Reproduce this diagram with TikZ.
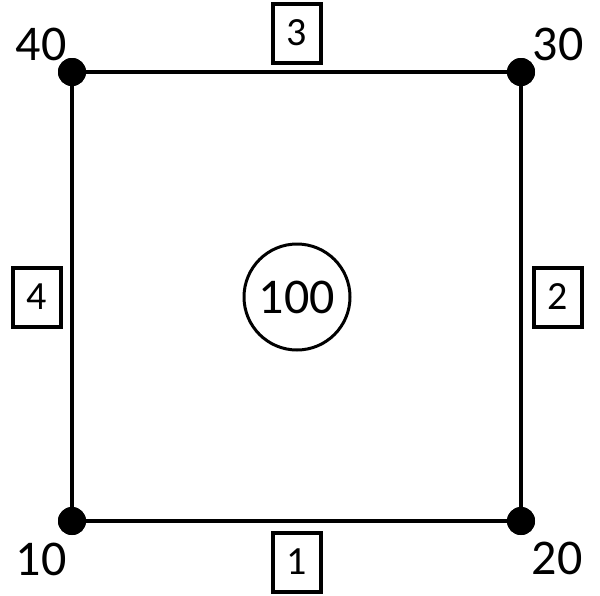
\documentclass[tikz,border=0pt]{standalone}
\usepackage{fontspec}
\setmainfont{Carlito}
\begin{document}
\begin{tikzpicture}[x=1pt,y=-1pt,
  corner/.style={circle,fill=black,inner sep=0pt,minimum size=28pt},
  vlabel/.style={font=\fontsize{50}{60}\selectfont,inner sep=0pt},
  edgebox/.style={draw,line width=4pt,minimum width=48pt,minimum height=59pt,inner sep=0pt,font=\fontsize{40}{48}\selectfont},
  face/.style={draw,circle,line width=3pt,minimum size=106pt,inner sep=0pt,font=\fontsize{50}{60}\selectfont},
  edge/.style={line width=4pt}]
\useasboundingbox (0,0) rectangle (600,595);
\node[corner] (n10) at (72,521) {};
\node[corner] (n20) at (521,521) {};
\node[corner] (n30) at (521,72) {};
\node[corner] (n40) at (72,72) {};
\draw[edge] (n10.center) -- (n20.center) -- (n30.center) -- (n40.center) -- cycle;
\node[corner] at (n10) {};
\node[corner] at (n20) {};
\node[corner] at (n30) {};
\node[corner] at (n40) {};
\node[vlabel] (l40) at (41,44) {40};
\node[vlabel] (l30) at (558,44) {30};
\node[vlabel] (l10) at (41,559) {10};
\node[vlabel] (l20) at (557,558) {20};
\node[edgebox] (e3) at (297,33) {3};
\node[edgebox] (e2) at (558,297) {2};
\node[edgebox] (e4) at (37,297) {4};
\node[edgebox] (e1) at (297,562) {1};
\node[face] (f100) at (297,297) {100};
\end{tikzpicture}
\end{document}
